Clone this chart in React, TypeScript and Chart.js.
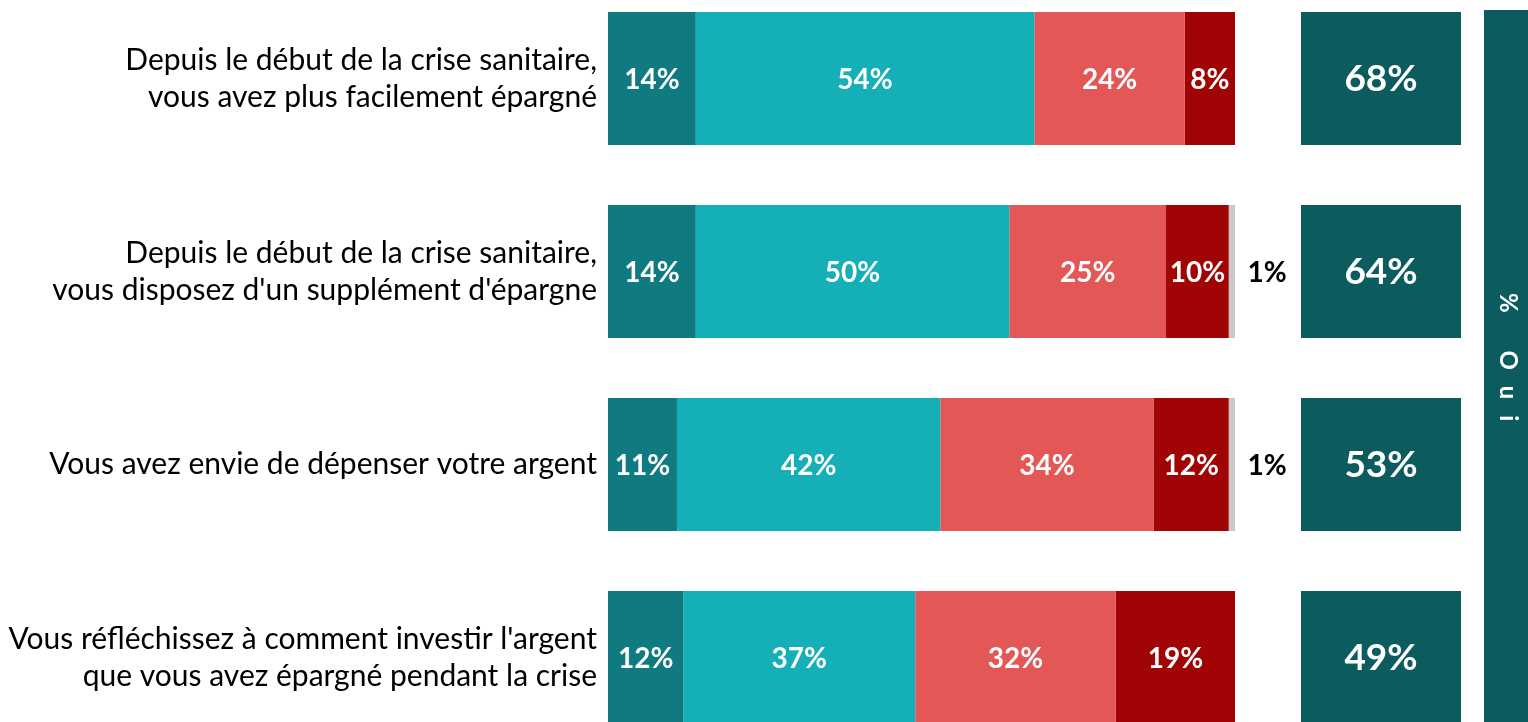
import React, { useEffect, useRef } from "react";
import { Chart, registerables } from "chart.js";

Chart.register(...registerables);

const categories: string[][] = [
  ["Depuis le début de la crise sanitaire,", "vous avez plus facilement épargné"],
  ["Depuis le début de la crise sanitaire,", "vous disposez d'un supplément d'épargne"],
  ["Vous avez envie de dépenser votre argent"],
  ["Vous réfléchissez à comment investir l'argent", "que vous avez épargné pendant la crise"],
];
const ouiToutAFait = [14, 14, 11, 12];
const ouiPlutot = [54, 50, 42, 37];
const nonPlutotPas = [24, 25, 34, 32];
const nonPasDuTout = [8, 10, 12, 19];
const nsp = [0, 1, 1, 0];
const totalOui = [68, 64, 53, 49];
const sideTitle = "% Oui";

const FONT = "Lato, 'Open Sans', sans-serif";
const DARK = "#0C5B5E";
const TOP_SHIFT = 18;

const overlayPlugin = {
  id: "overlay",
  afterDatasetsDraw(chart: any) {
    const { ctx, chartArea } = chart;
    ctx.save();
    // segment labels
    chart.data.datasets.forEach((ds: any, di: number) => {
      const meta = chart.getDatasetMeta(di);
      meta.data.forEach((el: any, i: number) => {
        const v = ds.data[i];
        if (!v) return;
        ctx.font = `bold 28px ${FONT}`;
        ctx.textBaseline = "middle";
        ctx.textAlign = "center";
        if (di < 4) {
          ctx.fillStyle = "#FFFFFF";
          ctx.fillText(`${v}%`, (el.x + el.base) / 2, el.y + 1);
        } else {
          ctx.fillStyle = "#000000";
          ctx.fillText(`${v}%`, el.x + 32, el.y + 1);
        }
      });
    });
    // total boxes
    const meta0 = chart.getDatasetMeta(0);
    meta0.data.forEach((el: any, i: number) => {
      const h = el.height;
      const x0 = chartArea.right + 66;
      const w = 160;
      ctx.fillStyle = DARK;
      ctx.fillRect(x0, el.y - h / 2, w, h);
      ctx.fillStyle = "#FFFFFF";
      ctx.font = `bold 37px ${FONT}`;
      ctx.textAlign = "center";
      ctx.textBaseline = "middle";
      ctx.fillText(`${totalOui[i]}%`, x0 + w / 2, el.y + 1);
    });
    // side strip
    const sx = chartArea.right + 249;
    const sTop = TOP_SHIFT + 10;
    const sBottom = chart.height;
    ctx.fillStyle = DARK;
    ctx.fillRect(sx, sTop, 44, sBottom - sTop);
    ctx.translate(sx + 24, TOP_SHIFT + 293);
    ctx.rotate(Math.PI / 2);
    ctx.fillStyle = "#FFFFFF";
    ctx.font = `bold 24px ${FONT}`;
    ctx.textAlign = "left";
    ctx.textBaseline = "middle";
    (ctx as any).letterSpacing = "16px";
    ctx.fillText(sideTitle, 0, 0);
    ctx.restore();
  },
};

export default function App() {
  const ref = useRef<HTMLCanvasElement | null>(null);
  useEffect(() => {
    if (!ref.current) return;
    const mk = (label: string, data: number[], color: string) => ({
      label,
      data,
      backgroundColor: color,
      borderWidth: 0,
      barPercentage: 1,
      categoryPercentage: 133 / 193,
    });
    const chart = new Chart(ref.current, {
      type: "bar",
      data: {
        labels: categories,
        datasets: [
          mk("Oui, tout à fait", ouiToutAFait, "#107A81"),
          mk("Oui, plutôt", ouiPlutot, "#14AFB7"),
          mk("Non, plutôt pas", nonPlutotPas, "#E45757"),
          mk("Non, pas du tout", nonPasDuTout, "#A10404"),
          mk("Ne sait pas", nsp, "#C9C9C9"),
        ],
      },
      options: {
        indexAxis: "y",
        animation: false,
        responsive: true,
        maintainAspectRatio: false,
        layout: { padding: { left: 0, right: 293, top: 0, bottom: 0 } },
        plugins: {
          legend: { display: false },
          tooltip: { enabled: false },
          title: { display: false },
        },
        scales: {
          x: {
            stacked: true,
            min: 0,
            max: 100,
            display: false,
          },
          y: {
            stacked: true,
            grid: { display: false, drawTicks: false },
            border: { display: false },
            afterFit: (s: any) => {
              s.width = 608;
              s.paddingTop = 0;
              s.paddingBottom = 0;
            },
            ticks: {
              padding: 11,
              color: "#000000",
              font: { family: FONT, size: 30, lineHeight: 1.23 },
            },
          },
        },
      },
      plugins: [overlayPlugin],
    });
    return () => chart.destroy();
  }, []);
  return (
    <div
      style={{
        position: "fixed",
        left: 0,
        top: -TOP_SHIFT,
        width: 1528,
        height: 772,
        background: "#fff",
      }}
    >
      <canvas ref={ref} />
    </div>
  );
}
